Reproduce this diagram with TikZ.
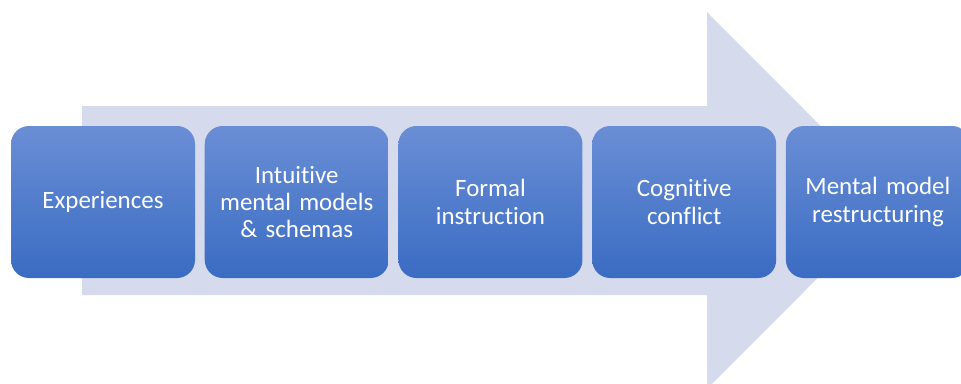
\documentclass[tikz,border=0pt]{standalone}
\usepackage{fontspec}
\setmainfont{Carlito}[Ligatures={NoCommon}]
\usepackage{tikz}
\usetikzlibrary{positioning}
\definecolor{arrowfill}{HTML}{D5DAEC}
\definecolor{boxtop}{HTML}{6A8ED5}
\definecolor{boxbottom}{HTML}{3A6CC3}
\tikzset{
    %Define style for the step boxes
    stepbox/.style={
           rectangle,
           rounded corners=13.5pt,
           top color=boxtop,
           bottom color=boxbottom,
           draw=none,
           minimum width=138pt,
           minimum height=114pt,
           text width=130pt,
           align=center,
           text=white,
           font=\fontsize{18.7}{20.6}\selectfont},
    % Define style for the big arrow
    bigarrow/.style={
           fill=arrowfill,
           draw=none}
}
\begin{document}
\begin{tikzpicture}[x=0.75pt,y=0.75pt,node distance=6.9pt]
\useasboundingbox (0,0) rectangle (961,383);
\clip (0,0) rectangle (961,383);
\fill[bigarrow] (82,277) -- (707,277) -- (707,371) -- (895,182.5) -- (707,-6) -- (707,88) -- (82,88) -- cycle;
\node[stepbox](1) at (103,181){Experiences};
\node[stepbox, right=of 1](2){Intuitive\\mental models\\\& schemas};
\node[stepbox, right=of 2](3){Formal\\instruction};
\node[stepbox, right=of 3](4){Cognitive\\conflict};
\node[stepbox, right=of 4](5){Mental model\\restructuring};
\end{tikzpicture}
\end{document}
